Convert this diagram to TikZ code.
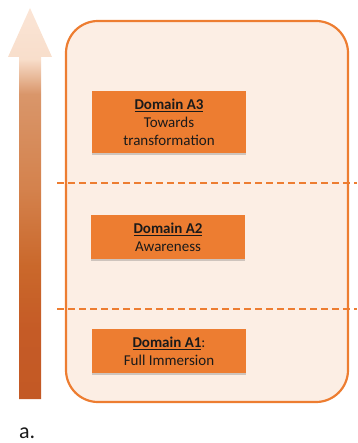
\documentclass[tikz,border=0pt]{standalone}
\usepackage{fontspec}
\setmainfont{Carlito}
\usetikzlibrary{shadows}
\definecolor{boxorange}{HTML}{ED7D31}
\definecolor{panel}{HTML}{FCEEE4}
\definecolor{ink}{HTML}{1A1A1A}
\definecolor{arrowA}{HTML}{C35925}
\definecolor{arrowB}{HTML}{C55B26}
\definecolor{arrowC}{HTML}{CA682B}
\definecolor{arrowD}{HTML}{D4824D}
\definecolor{arrowE}{HTML}{D9966A}
\definecolor{arrowF}{HTML}{F8DECB}
\definecolor{arrowG}{HTML}{FBE5D6}
\pgfdeclareverticalshading{arrowshade}{100bp}{%
  color(0bp)=(arrowA); color(25bp)=(arrowA); color(34bp)=(arrowB);
  color(42bp)=(arrowC); color(52bp)=(arrowD); color(64bp)=(arrowE);
  color(68.5bp)=(arrowF); color(75bp)=(arrowG); color(100bp)=(arrowG)}
\begin{document}
\begin{tikzpicture}[x=1pt,y=-1pt,
  domainbox/.style={fill=boxorange, inner sep=0pt, text=ink, align=center,
    font=\fontsize{15}{18}\selectfont,
    drop shadow={shadow xshift=0pt, shadow yshift=-2pt, opacity=0.3, fill=black!60}},
  divider/.style={draw=boxorange, line width=1.5pt, dash pattern=on 7pt off 4pt}]
\useasboundingbox (0,0) rectangle (357,443);
% rising arrow
\shade[shading=arrowshade]
  (19,399) -- (19,57) -- (8,57) -- (30,8) -- (52,57) -- (41,57) -- (41,399) -- cycle;
% panel
\draw[boxorange, fill=panel, line width=2.2pt, rounded corners=32pt] (66,21) rectangle (348,402);
% dividers
\coordinate (d1a) at (57,183); \coordinate (d1b) at (357,183);
\coordinate (d2a) at (57,309); \coordinate (d2b) at (357,309);
\draw[divider] (d1a) -- (d1b);
\draw[divider] (d2a) -- (d2b);
% domain boxes
\node[domainbox, minimum width=154pt, minimum height=62pt] (a3) at (169,122)
  {\textbf{\underline{Domain A3}}\\Towards\\transformation};
\node[domainbox, minimum width=154pt, minimum height=44pt] (a2) at (168,237)
  {\textbf{\underline{Domain A2}}\\Awareness};
\node[domainbox, minimum width=154pt, minimum height=44pt] (a1) at (169,351)
  {\textbf{\underline{Domain A1}}:\\Full Immersion};
% label
\node[anchor=base west, inner sep=0pt, font=\fontsize{22}{26}\selectfont, text=ink] (lab) at (19,438) {a.};
\end{tikzpicture}
\end{document}
